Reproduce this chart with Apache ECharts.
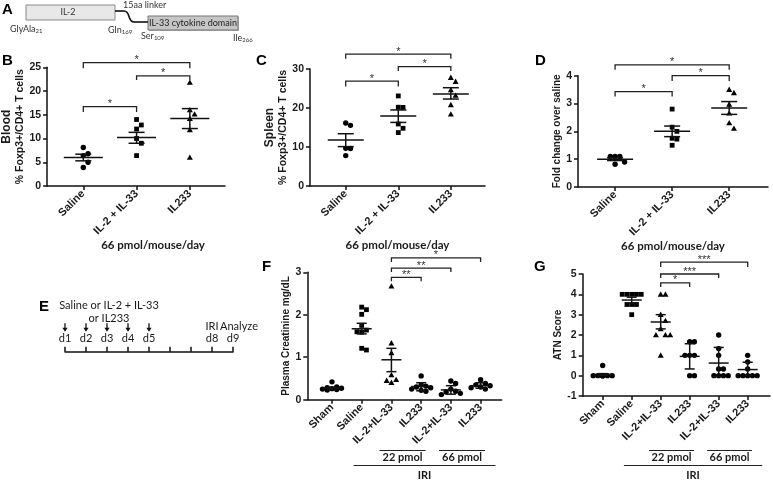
<!DOCTYPE html>
<html><head><meta charset="utf-8">
<script src="https://cdn.jsdelivr.net/npm/echarts@6/dist/echarts.min.js"></script>
<style>html,body{margin:0;padding:0;background:#fff}#c{width:773px;height:480px}</style>
</head><body><div id="c"></div>
<script>
// ================= DATA =================
// Panels B-D (66 pmol/mouse/day)
const groupsBCD = ['Saline', 'IL-2 + IL-33', 'IL233'];
const symbolsBCD = ['circle', 'rect', 'triangle'];

const bloodSaline = [8.1, 6.8, 6.4, 5.0, 3.9];
const bloodIL2IL33 = [14.0, 12.85, 12.0, 10.0, 9.0, 6.4];
const bloodIL233 = [21.8, 16.0, 15.1, 14.2, 11.8, 6.0];
const bloodMean = [6.0, 10.2, 14.2];
const bloodSemHi = [6.7, 11.3, 16.3];
const bloodSemLo = [5.3, 9.0, 12.1];
const bloodBrackets = [[0, 2, 26.0, 24.8], [1, 2, 23.2, 22.3], [0, 1, 16.7, 15.6]];
const bloodStars = ['*', '*', '*'];

const spleenSaline = [16.15, 15.55, 9.65, 9.6, 7.8];
const spleenIL2IL33 = [23.1, 20.2, 20.15, 15.9, 14.8, 13.7];
const spleenIL233 = [27.8, 26.75, 24.6, 23.2, 20.8, 18.4];
const spleenMean = [11.8, 17.95, 23.6];
const spleenSemHi = [13.4, 19.5, 25.2];
const spleenSemLo = [10.1, 16.3, 22.3];
const spleenBrackets = [[0, 2, 33.8, 32.6], [1, 2, 30.6, 29.5], [0, 1, 26.9, 25.5]];
const spleenStars = ['*', '*', '*'];

const foldSaline = [1.1, 1.1, 1.1, 0.9, 0.82];
const foldIL2IL33 = [2.8, 2.15, 2.0, 1.75, 1.72, 1.5];
const foldIL233 = [3.5, 3.38, 2.97, 2.65, 2.3, 2.1];
const foldMean = [1.0, 2.0, 2.84];
const foldSemHi = [1.05, 2.19, 3.07];
const foldSemLo = [0.95, 1.81, 2.61];
const foldBrackets = [[0, 2, 4.39, 4.21], [1, 2, 4.0, 3.81], [0, 1, 3.43, 3.25]];
const foldStars = ['*', '*', '*'];

// Panels F-G (IRI)
const groupsFG = ['Sham', 'Saline', 'IL-2+IL-33', 'IL233', 'IL-2+IL-33', 'IL233'];
const symbolsFG = ['circle', 'rect', 'triangle', 'circle', 'circle', 'circle'];
const doseGroupNames = ['22 pmol', '66 pmol', 'IRI'];
const doseGroupFrom = [2, 4, 1];
const doseGroupTo = [3, 5, 5];
const doseGroupLevel = [0, 0, 1];

const creatSham = [0.42, 0.3, 0.28, 0.27, 0.26, 0.25, 0.24, 0.23];
const creatSaline = [2.18, 2.12, 2.01, 1.75, 1.64, 1.6, 1.59, 1.21, 1.17];
const creatIL2IL33_22 = [2.67, 1.33, 1.1, 0.58, 0.47, 0.45, 0.4];
const creatIL233_22 = [0.56, 0.35, 0.32, 0.3, 0.28, 0.25, 0.22, 0.2];
const creatIL2IL33_66 = [0.44, 0.38, 0.25, 0.2, 0.18, 0.15, 0.12];
const creatIL233_66 = [0.47, 0.38, 0.35, 0.33, 0.3, 0.28, 0.25];
const creatMean = [0.27, 1.67, 0.94, 0.31, 0.23, 0.33];
const creatSemHi = [0.29, 1.8, 1.21, 0.40, 0.33, 0.40];
const creatSemLo = [0.25, 1.55, 0.66, 0.21, 0.13, 0.27];
const creatBrackets = [[2, 5, 3.34, 3.24], [2, 4, 3.10, 3.01], [2, 3, 2.88, 2.79]];
const creatStars = ['*', '**', '**'];

const atnSham = [0.5, 0, 0, 0, 0, 0, 0, 0, 0];
const atnSaline = [4, 4, 4, 4, 4, 3.5, 3.5, 3.5, 3];
const atnIL2IL33_22 = [4, 4, 3, 2.7, 2.3, 2, 2, 2, 1];
const atnIL233_22 = [1.67, 1.67, 1, 1, 1, 0, 0];
const atnIL2IL33_66 = [2, 1.33, 1, 0.33, 0.33, 0, 0, 0, 0];
const atnIL233_66 = [1, 0.67, 0.33, 0, 0, 0, 0, 0];
const atnMean = [0.06, 3.72, 2.64, 0.95, 0.62, 0.3];
const atnSemHi = [0.1, 3.86, 3.0, 1.57, 1.39, 0.66];
const atnSemLo = [0.01, 3.57, 2.3, 0.33, -0.03, 0.0];
const atnBrackets = [[2, 5, 5.58, 5.35], [2, 4, 5.0, 4.8], [2, 3, 4.56, 4.36]];
const atnStars = ['***', '***', '*'];

// Panel E timeline
const timelineDays = [1, 2, 3, 4, 5, 6, 7, 8, 9];
const timelineLabels = ['d1', 'd2', 'd3', 'd4', 'd5', '', '', 'd8', 'd9'];
const doseDays = [1, 2, 3, 4, 5];
const eventDays = [8, 9];
const eventLabels = ['IRI', 'Analyze'];

// ================= STYLE / LAYOUT =================
const ARIAL = 'Liberation Sans, Arial, sans-serif';
const CAL = 'Lato, Open Sans, sans-serif';
const INK = '#1a1a1a';
const AX = {color: '#111', width: 1.5};

const L = {
  B: {left: 43, top: 67.3, width: 182, height: 118.7, xmin: -0.68, xmax: 2.66, ymin: 0, ymax: 25, iv: 5},
  C: {left: 310, top: 69, width: 175, height: 117, xmin: -0.68, xmax: 2.65, ymin: 0, ymax: 30, iv: 10},
  D: {left: 578, top: 75.7, width: 190, height: 111.3, xmin: -0.65, xmax: 2.68, ymin: 0, ymax: 4, iv: 1},
  E: {left: 65, top: 320, width: 168, height: 31.7},
  F: {left: 307.3, top: 272.3, width: 194.4, height: 127.4, xmin: -0.83, xmax: 5.71, ymin: 0, ymax: 3, iv: 1},
  G: {left: 582.7, top: 274, width: 187.3, height: 122, xmin: -0.69, xmax: 5.77, ymin: -1, ymax: 5, iv: 1}
};

// simple beeswarm layout (horizontal pixel offsets so points do not overlap)
function swarm(vals, ppu, size, maxOff) {
  const order = vals.map((v, i) => i).sort((a, b) => vals[b] - vals[a]);
  const placed = [];
  const offs = new Array(vals.length).fill(0);
  const step = size * 0.95;
  order.forEach(i => {
    const y = vals[i] * ppu;
    let best = 0, bestScore = -1;
    for (let k = 0; k < 15; k++) {
      const cand = k === 0 ? 0 : (k % 2 ? 1 : -1) * Math.ceil(k / 2) * step;
      if (Math.abs(cand) > maxOff) break;
      let minD = Infinity;
      placed.forEach(p => { const d = Math.hypot(p[0] - cand, (p[1] - y) / 1.4); if (d < minD) minD = d; });
      if (minD >= size * 0.95) { best = cand; break; }
      if (minD > bestScore) { bestScore = minD; best = cand; }
    }
    offs[i] = best;
    placed.push([best, y]);
  });
  return offs;
}

function shapeFor(sym, x, y) {
  const st = {fill: '#000'};
  if (sym === 'rect') return {type: 'rect', shape: {x: x - 2.4, y: y - 2.4, width: 4.8, height: 4.8}, style: st};
  if (sym === 'triangle') return {type: 'polygon', shape: {points: [[x, y - 3.1], [x + 3, y + 2.3], [x - 3, y + 2.3]]}, style: st};
  return {type: 'circle', shape: {cx: x, cy: y, r: 2.7}, style: st};
}

function pointsSeries(gi, groups, symbols, lay, maxOff) {
  const ppu = lay.height / (lay.ymax - lay.ymin);
  const data = [];
  groups.forEach((vals, g) => {
    const offs = swarm(vals, ppu, 5, maxOff);
    vals.forEach((v, i) => data.push([g, v, offs[i], g]));
  });
  return {
    type: 'custom', xAxisIndex: gi, yAxisIndex: gi, data, silent: true, z: 3,
    renderItem: (params, api) => {
      const p = api.coord([api.value(0), api.value(1)]);
      return shapeFor(symbols[api.value(3)], p[0] + api.value(2), p[1]);
    }
  };
}

function errSeries(gi, mean, hi, lo, wMean, wCap) {
  return {
    type: 'custom', xAxisIndex: gi, yAxisIndex: gi, silent: true, z: 4,
    data: mean.map((m, i) => [i, m, hi[i], lo[i]]),
    renderItem: (params, api) => {
      const i = api.value(0);
      const pm = api.coord([i, api.value(1)]), ph = api.coord([i, api.value(2)]), pl = api.coord([i, api.value(3)]);
      const st = {stroke: '#111', lineWidth: 1.5, fill: null};
      return {type: 'group', children: [
        {type: 'line', shape: {x1: pm[0] - wMean, y1: pm[1], x2: pm[0] + wMean, y2: pm[1]}, style: st},
        {type: 'line', shape: {x1: ph[0], y1: ph[1], x2: pl[0], y2: pl[1]}, style: st},
        {type: 'line', shape: {x1: ph[0] - wCap, y1: ph[1], x2: ph[0] + wCap, y2: ph[1]}, style: st},
        {type: 'line', shape: {x1: pl[0] - wCap, y1: pl[1], x2: pl[0] + wCap, y2: pl[1]}, style: st}
      ]};
    }
  };
}

function bracketSeries(gi, brackets, stars) {
  return {
    type: 'custom', xAxisIndex: gi, yAxisIndex: gi, silent: true, z: 5, clip: false,
    data: brackets,
    renderItem: (params, api) => {
      const x1 = api.value(0), x2 = api.value(1), yt = api.value(2), yl = api.value(3);
      const a = api.coord([x1, yt]), b = api.coord([x2, yt]);
      const al = api.coord([x1, yl]), bl = api.coord([x2, yl]);
      return {type: 'group', children: [
        {type: 'polyline', shape: {points: [[al[0], al[1]], [a[0], a[1]], [b[0], b[1]], [bl[0], bl[1]]]},
         style: {stroke: '#222', lineWidth: 1.3, fill: null}},
        {type: 'text', style: {text: stars[params.dataIndex], x: (a[0] + b[0]) / 2, y: a[1] + 3,
          align: 'center', verticalAlign: 'bottom', font: '11px ' + ARIAL, fill: '#333'}}
      ]};
    }
  };
}

function doseGroupSeries(gi) {
  return {
    type: 'custom', xAxisIndex: gi, yAxisIndex: gi, silent: true, clip: false,
    data: doseGroupFrom.map((f, i) => [f, doseGroupTo[i], doseGroupLevel[i]]),
    renderItem: (params, api) => {
      const lvl = api.value(2);
      const ext = lvl === 0 ? [-0.4, 0.15] : [-0.27, 0.5];
      const x1 = api.coord([api.value(0) + ext[0], 0])[0];
      const x2 = api.coord([api.value(1) + ext[1], 0])[0];
      const ly = lvl === 0 ? 450.5 : 465.5;
      const ty = lvl === 0 ? 457.5 : 475;
      return {type: 'group', children: [
        {type: 'line', shape: {x1, y1: ly, x2, y2: ly}, style: {stroke: '#222', lineWidth: 1.2}},
        {type: 'text', style: {text: doseGroupNames[params.dataIndex], x: (x1 + x2) / 2, y: ty,
          align: 'center', verticalAlign: 'middle', font: 'bold 11px ' + CAL, fill: INK}}
      ]};
    }
  };
}

function gridOf(l) { return {left: l.left, top: l.top, width: l.width, height: l.height, containLabel: false}; }

function xCat(gi, l, cats, extra) {
  const idx = cats.map((c, i) => i);
  return Object.assign({
    gridIndex: gi, type: 'value', min: l.xmin, max: l.xmax,
    axisLine: {show: true, onZero: false, lineStyle: AX},
    axisTick: {show: true, customValues: idx, length: 4, lineStyle: AX},
    axisLabel: {customValues: idx, rotate: 45, margin: 6, formatter: v => cats[Math.round(v)] || '',
      color: INK, fontWeight: 'bold', fontSize: 11, fontFamily: ARIAL},
    splitLine: {show: false}
  }, extra || {});
}

function yVal(gi, l, name, nameGap, rich) {
  return {
    gridIndex: gi, type: 'value', min: l.ymin, max: l.ymax, interval: l.iv,
    axisLine: {show: true, onZero: false, lineStyle: AX},
    axisTick: {show: true, length: 4, lineStyle: AX},
    axisLabel: {margin: 6, color: INK, fontWeight: 'bold', fontSize: 10.5, fontFamily: ARIAL},
    splitLine: {show: false},
    name, nameLocation: 'middle', nameRotate: 90, nameGap,
    nameTextStyle: Object.assign({color: INK, fontWeight: 'bold', fontSize: 10, fontFamily: ARIAL}, rich || {})
  };
}

const pmolName = {
  name: '66 pmol/mouse/day', nameLocation: 'middle', nameGap: 49,
  nameTextStyle: {color: INK, fontWeight: 'bold', fontSize: 11.5, fontFamily: CAL}
};

const twoLineRich = {
  rich: {
    a: {fontWeight: 'bold', fontSize: 12, fontFamily: ARIAL, color: INK, lineHeight: 13},
    b: {fontWeight: 'bold', fontSize: 10.5, fontFamily: ARIAL, color: INK, lineHeight: 13}
  }
};

// ---------- panel A + letters (static graphics) ----------
function sub(main, s) { return '{m|' + main + '}{s|' + s + '}'; }
const subRich = {m: {fontSize: 9, fontFamily: CAL, fill: '#333'}, s: {fontSize: 6, fontFamily: CAL, fill: '#333', padding: [5, 0, 0, 0]}};
const LINK = {stroke: '#111', lineWidth: 1.6, fill: null};
const graphics = [
  {type: 'rect', shape: {x: 26, y: 5, width: 89, height: 15}, style: {fill: '#e8e8e8', stroke: '#8a8a8a', lineWidth: 1}},
  {type: 'text', style: {text: 'IL-2', x: 68, y: 12.5, align: 'center', verticalAlign: 'middle', font: '9px ' + CAL, fill: '#333'}},
  {type: 'rect', shape: {x: 149, y: 17, width: 90, height: 14}, style: {fill: '#b0b0b0'}},
  {type: 'rect', shape: {x: 148, y: 16, width: 90, height: 14}, style: {fill: '#c6c6c6', stroke: '#777', lineWidth: 1}},
  {type: 'text', style: {text: 'IL-33 cytokine domain', x: 193, y: 23, align: 'center', verticalAlign: 'middle', font: '9px ' + CAL, fill: '#222'}},
  {type: 'line', shape: {x1: 115, y1: 11, x2: 124, y2: 11}, style: LINK},
  {type: 'bezierCurve', shape: {x1: 124, y1: 11, cpx1: 131, cpy1: 11, cpx2: 127, cpy2: 22, x2: 134, y2: 22}, style: LINK},
  {type: 'line', shape: {x1: 134, y1: 22, x2: 148, y2: 22}, style: LINK},
  {type: 'text', style: {text: '15aa linker', x: 123, y: 5, verticalAlign: 'middle', font: '9px ' + CAL, fill: '#333'}},
  {type: 'text', style: {text: sub('GlyAla', '21'), x: 10, y: 29, verticalAlign: 'middle', rich: subRich}},
  {type: 'text', style: {text: sub('Gln', '169'), x: 108, y: 30, verticalAlign: 'middle', rich: subRich}},
  {type: 'text', style: {text: sub('Ser', '109'), x: 141, y: 36, verticalAlign: 'middle', rich: subRich}},
  {type: 'text', style: {text: sub('Ile', '266'), x: 233, y: 38, verticalAlign: 'middle', rich: subRich}},
  // E dosing caption
  {type: 'text', style: {text: 'Saline or IL-2 + IL-33', x: 109, y: 305, align: 'center', verticalAlign: 'middle', font: '11px ' + CAL, fill: INK}},
  {type: 'text', style: {text: 'or IL233', x: 109, y: 318, align: 'center', verticalAlign: 'middle', font: '11px ' + CAL, fill: INK}}
];
[['A', 2, 10], ['B', 2, 61], ['C', 256, 61], ['D', 535, 61], ['E', 39, 307], ['F', 262, 267], ['G', 534, 267]].forEach(t => {
  graphics.push({type: 'text', style: {text: t[0], x: t[1], y: t[2], verticalAlign: 'middle', font: 'bold 15px ' + ARIAL, fill: '#000'}});
});

// ---------- panel E series ----------
const doseArrows = {
  type: 'custom', xAxisIndex: 3, yAxisIndex: 3, silent: true, clip: false,
  data: doseDays.map(d => [d, 0]),
  renderItem: (params, api) => {
    const p = api.coord([api.value(0), 0]);
    const x = p[0], yb = p[1];
    return {type: 'group', children: [
      {type: 'line', shape: {x1: x, y1: yb - 28.5, x2: x, y2: yb - 22}, style: {stroke: '#111', lineWidth: 1.3}},
      {type: 'polygon', shape: {points: [[x - 2.6, yb - 24], [x + 2.6, yb - 24], [x, yb - 20]]}, style: {fill: '#111'}}
    ]};
  }
};
const eventText = {
  type: 'custom', xAxisIndex: 3, yAxisIndex: 3, silent: true, clip: false,
  data: eventDays.map(d => [d, 0]),
  renderItem: (params, api) => {
    const p = api.coord([api.value(0), 0]);
    const lab = eventLabels[params.dataIndex];
    return {type: 'text', style: {text: lab, x: p[0] + (lab === 'Analyze' ? 6 : 0), y: p[1] - 25,
      align: 'center', verticalAlign: 'middle', font: '11px ' + CAL, fill: INK}};
  }
};

const option = {
  animation: false,
  backgroundColor: '#fff',
  graphic: graphics,
  grid: [gridOf(L.B), gridOf(L.C), gridOf(L.D), gridOf(L.E), gridOf(L.F), gridOf(L.G)],
  xAxis: [
    xCat(0, L.B, groupsBCD, Object.assign({}, pmolName, {nameTextStyle: Object.assign({}, pmolName.nameTextStyle, {padding: [0, 0, 0, 34]})})),
    xCat(1, L.C, groupsBCD, pmolName),
    xCat(2, L.D, groupsBCD, pmolName),
    {gridIndex: 3, type: 'value', min: 1, max: 9, interval: 1,
     axisLine: {show: true, onZero: false, lineStyle: AX},
     axisTick: {show: true, inside: true, length: 5, lineStyle: AX},
     axisLabel: {inside: true, margin: 8, color: INK, fontSize: 11, fontFamily: CAL,
       formatter: v => timelineLabels[timelineDays.indexOf(Math.round(v))] || ''},
     splitLine: {show: false}},
    xCat(4, L.F, groupsFG),
    xCat(5, L.G, groupsFG)
  ],
  yAxis: [
    yVal(0, L.B, '{a|Blood}\n{b|% Foxp3+/CD4+ T cells}', 16, twoLineRich),
    yVal(1, L.C, '{a|Spleen}\n{b|% Foxp3+/CD4+ T cells}', 16, twoLineRich),
    yVal(2, L.D, 'Fold change over saline', 12, {fontSize: 10}),
    {gridIndex: 3, type: 'value', min: 0, max: 1, show: false},
    yVal(4, L.F, 'Plasma Creatinine mg/dL', 9, {fontSize: 10}),
    yVal(5, L.G, 'ATN Score', 15, {fontSize: 10})
  ],
  series: [
    pointsSeries(0, [bloodSaline, bloodIL2IL33, bloodIL233], symbolsBCD, L.B, 10),
    errSeries(0, bloodMean, bloodSemHi, bloodSemLo, 19.5, 8),
    bracketSeries(0, bloodBrackets, bloodStars),
    pointsSeries(1, [spleenSaline, spleenIL2IL33, spleenIL233], symbolsBCD, L.C, 10),
    errSeries(1, spleenMean, spleenSemHi, spleenSemLo, 18, 8),
    bracketSeries(1, spleenBrackets, spleenStars),
    pointsSeries(2, [foldSaline, foldIL2IL33, foldIL233], symbolsBCD, L.D, 10),
    errSeries(2, foldMean, foldSemHi, foldSemLo, 18, 8),
    bracketSeries(2, foldBrackets, foldStars),
    doseArrows, eventText,
    pointsSeries(4, [creatSham, creatSaline, creatIL2IL33_22, creatIL233_22, creatIL2IL33_66, creatIL233_66], symbolsFG, L.F, 9.5),
    errSeries(4, creatMean, creatSemHi, creatSemLo, 10, 5),
    bracketSeries(4, creatBrackets, creatStars),
    doseGroupSeries(4),
    pointsSeries(5, [atnSham, atnSaline, atnIL2IL33_22, atnIL233_22, atnIL2IL33_66, atnIL233_66], symbolsFG, L.G, 9.5),
    errSeries(5, atnMean, atnSemHi, atnSemLo, 10, 5),
    bracketSeries(5, atnBrackets, atnStars),
    doseGroupSeries(5)
  ]
};

const chart = echarts.init(document.getElementById('c'), null, {renderer: 'canvas', width: 773, height: 480});
chart.setOption(option);
</script>
</body></html>
